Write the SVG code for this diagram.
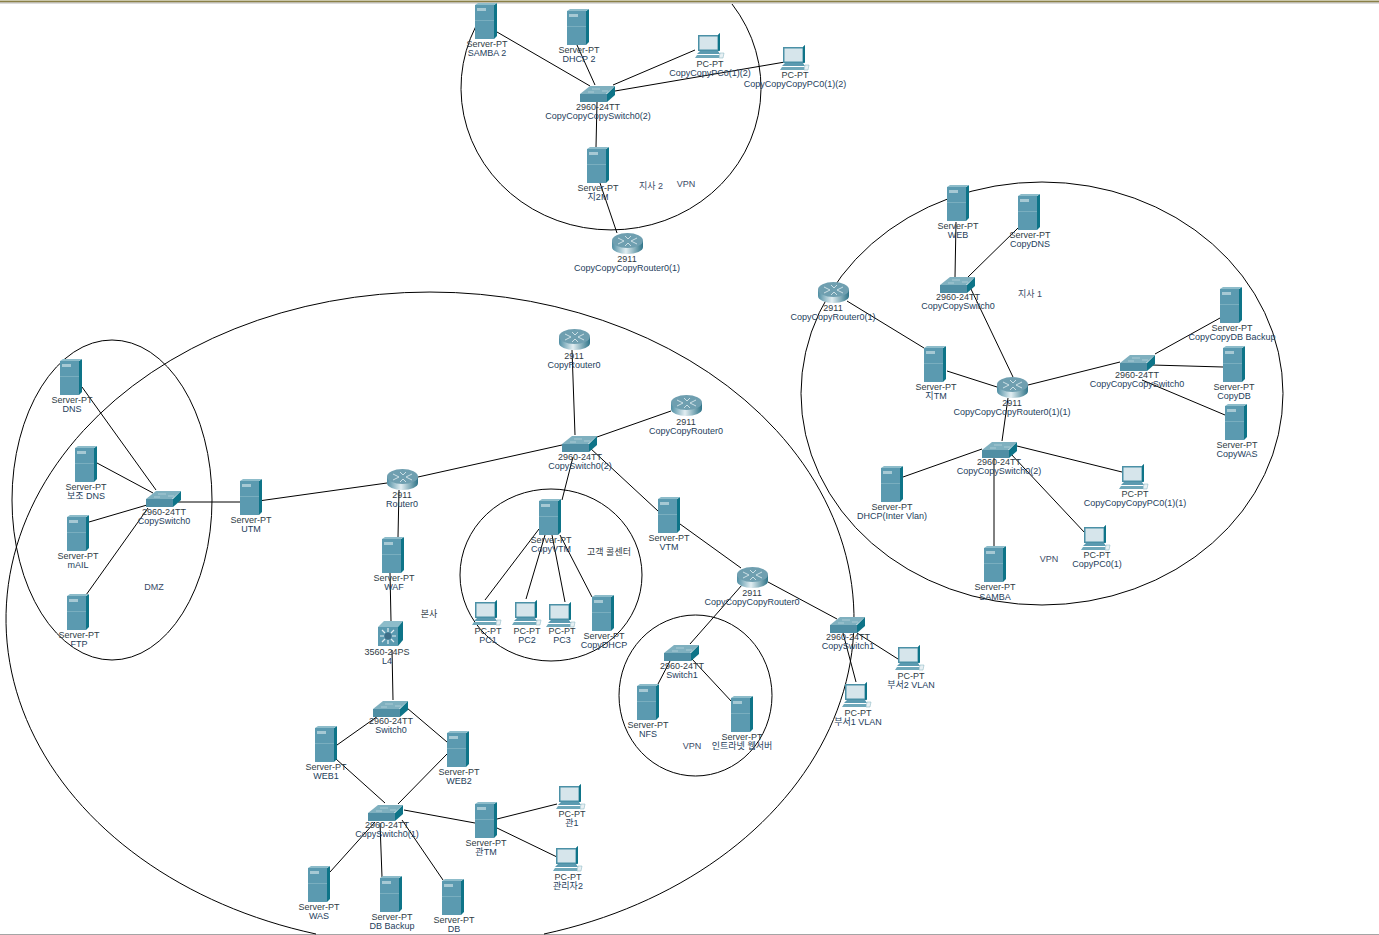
<svg xmlns="http://www.w3.org/2000/svg" width="1379" height="935" viewBox="0 0 1379 935">
<style>
text{font-family:"Liberation Sans","Noto Sans CJK KR",sans-serif;font-size:9px;text-anchor:middle;fill:#2f3b44}
.b{fill:#24405c}
.f{fill:#3a4a66}
.ring{fill:none;stroke:#000;stroke-width:1}
#connectors line{stroke:#000;stroke-width:1}
</style>
<defs>
<linearGradient id="rg" x1="0" x2="1" y1="0" y2="0"><stop offset="0" stop-color="#4f8ea3"/><stop offset=".45" stop-color="#e2eef2"/><stop offset="1" stop-color="#2f7488"/></linearGradient>
<g id="srv"><rect x="0" y="2" width="19" height="34" fill="#5b9ab0"/><polygon points="19,2 22,0 22,33 19,36" fill="#0e7488"/><polygon points="0,2 3,0 22,0 19,2" fill="#8dbcca"/><rect x="2" y="5" width="9" height="3" fill="#a6c9d4"/><rect x="0" y="17" width="19" height="1" fill="#79aebf"/></g>
<g id="sw"><polygon points="0,9 10,1 35,1 26,9" fill="#7fb0bf"/><rect x="0" y="9" width="27" height="8" fill="#4f8ea4"/><polygon points="27,9 35,1 35,10 27,17" fill="#0e7488"/><path d="M12 4h8M22 6h6M8 7h6" stroke="#b6d3dc" stroke-width=".8"/></g>
<g id="rt"><path d="M0 8v6a15.500 7 0 0 0 31 0v-6z" fill="url(#rg)"/><ellipse cx="15.500" cy="7.500" rx="15.500" ry="7.500" fill="#6f9fb0"/><path d="M6 5l6 3-6 3M25 5l-6 3 6 3M13 3l3 3 3-3M13 13l3-3 3 3" fill="none" stroke="#d7e6eb" stroke-width=".9"/></g>
<g id="pc"><polygon points="3,2 23,2 25,0 25,18 3,18" fill="#4b90a6"/><polygon points="23,2 25,0 25,17 23,18" fill="#0e7488"/><rect x="4.500" y="3.500" width="18" height="13" fill="#d6e5eb"/><polygon points="5,18 23,18 25,21 2,21" fill="#5b9ab0"/><polygon points="2,22 24,22 25,25 0,25" fill="#6fa8ba"/><polygon points="25,20 29,20 28,25 24,25" fill="#e8f0f3" stroke="#7fb0bf" stroke-width=".5"/></g>
<g id="l3"><polygon points="0,6 6,0 25,0 20,6" fill="#8dbcca"/><rect x="0" y="6" width="20" height="19" fill="#5b9ab0"/><polygon points="20,6 25,0 25,19 20,25" fill="#0e7488"/><circle cx="10" cy="15" r="3.500" fill="#3f6f88"/><path d="M10 7v4M10 19v4M2 15h4M14 15h4M4 9l3 3M16 9l-3 3M4 21l3-3M16 21l-3-3" stroke="#e3eef2" stroke-width="1.200"/></g>
</defs>
<rect width="1379" height="935" fill="#fff"/>
<rect width="1379" height="1" fill="#c9c6a8"/><rect y="1" width="1379" height="1.500" fill="#8a8048"/><rect y="2.500" width="1379" height="1" fill="#b9b9b9"/>
<rect y="934" width="1379" height="1" fill="#a5a5a5"/>
<g id="areas">
<path class="ring" d="M490 4A150 142 0 1 0 732 4"/>
<ellipse class="ring" cx="1042" cy="393.500" rx="241" ry="211.500"/>
<path class="ring" d="M316 934A424 327 0 1 1 544 934"/>
<ellipse class="ring" cx="112" cy="500" rx="100" ry="160"/>
<ellipse class="ring" cx="551" cy="575" rx="91" ry="86"/>
<ellipse class="ring" cx="695.500" cy="695.500" rx="76.500" ry="80.500"/>
</g>
<g id="connectors">
<line x1="497" y1="32" x2="590" y2="86"/><line x1="577" y1="45" x2="595" y2="85"/><line x1="695" y1="50" x2="613" y2="85"/><line x1="785" y1="62" x2="615" y2="91"/><line x1="597" y1="102" x2="596" y2="147"/><line x1="600" y1="183" x2="617" y2="233"/>
<line x1="847" y1="301" x2="924" y2="348"/><line x1="947" y1="371" x2="997" y2="387"/><line x1="956" y1="222" x2="955" y2="277"/><line x1="1018" y1="228" x2="968" y2="277"/><line x1="970" y1="287" x2="1013" y2="377"/><line x1="1028" y1="385" x2="1120" y2="362"/><line x1="1155" y1="354" x2="1220" y2="318"/><line x1="1152" y1="365" x2="1223" y2="367"/><line x1="1142" y1="380" x2="1225" y2="415"/><line x1="1008" y1="398" x2="1002" y2="441"/><line x1="982" y1="449" x2="903" y2="477"/><line x1="994" y1="457" x2="994" y2="546"/><line x1="1017" y1="446" x2="1122" y2="472"/><line x1="1010" y1="453" x2="1085" y2="533"/>
<line x1="82" y1="387" x2="156" y2="490"/><line x1="97" y1="463" x2="153" y2="493"/><line x1="89" y1="522" x2="147" y2="505"/><line x1="86" y1="595" x2="148" y2="508"/><line x1="178" y1="502" x2="240" y2="502"/><line x1="262" y1="500.500" x2="387" y2="483"/><line x1="418" y1="477" x2="562" y2="445"/><line x1="399" y1="490" x2="398" y2="537"/><line x1="390" y1="573" x2="391" y2="621"/><line x1="392" y1="650" x2="393" y2="700"/>
<line x1="572" y1="350" x2="575" y2="435"/><line x1="671" y1="411" x2="597" y2="437"/><line x1="573" y1="457" x2="562" y2="500"/><line x1="590" y1="448" x2="658" y2="511"/><line x1="680" y1="524" x2="741" y2="568"/><line x1="742" y1="585" x2="690" y2="644"/><line x1="768" y1="582" x2="837" y2="619"/><line x1="670" y1="661" x2="658" y2="684"/><line x1="692" y1="659" x2="732" y2="702"/><line x1="857" y1="633" x2="898" y2="659"/><line x1="843" y1="633" x2="856" y2="682"/>
<line x1="539" y1="529" x2="485" y2="600"/><line x1="545" y1="535" x2="526" y2="599"/><line x1="552" y1="535" x2="565" y2="602"/><line x1="560" y1="535" x2="592" y2="597"/>
<line x1="378" y1="716" x2="337" y2="745"/><line x1="407" y1="708" x2="447" y2="742"/><line x1="336" y1="759" x2="385" y2="803"/><line x1="447" y1="754" x2="398" y2="804"/><line x1="404" y1="810" x2="475" y2="823"/><line x1="497" y1="819" x2="557" y2="804"/><line x1="497" y1="828" x2="557" y2="857"/><line x1="375" y1="822" x2="330" y2="872"/><line x1="380" y1="823" x2="382" y2="877"/><line x1="402" y1="820" x2="443" y2="880"/>
</g>
<g id="samba2"><use href="#srv" x="475" y="3"/><text x="487" y="47">Server-PT</text><text class="b" x="487" y="56">SAMBA 2</text></g>
<g id="dhcp2"><use href="#srv" x="567" y="9"/><text x="579" y="53">Server-PT</text><text class="b" x="579" y="62">DHCP 2</text></g>
<g id="ji2m"><use href="#srv" x="587" y="147"/><text x="598" y="191">Server-PT</text><text class="b" x="598" y="200">지2M</text></g>
<g id="web"><use href="#srv" x="947" y="185"/><text x="958" y="229">Server-PT</text><text class="b" x="958" y="238">WEB</text></g>
<g id="copydns"><use href="#srv" x="1018" y="194"/><text x="1030" y="238">Server-PT</text><text class="b" x="1030" y="247">CopyDNS</text></g>
<g id="dbbackup1"><use href="#srv" x="1220" y="287"/><text x="1232" y="331">Server-PT</text><text class="b" x="1232" y="340">CopyCopyDB Backup</text></g>
<g id="copydb"><use href="#srv" x="1223" y="346"/><text x="1234" y="390">Server-PT</text><text class="b" x="1234" y="399">CopyDB</text></g>
<g id="copywas"><use href="#srv" x="1225" y="404"/><text x="1237" y="448">Server-PT</text><text class="b" x="1237" y="457">CopyWAS</text></g>
<g id="jitm"><use href="#srv" x="924" y="346"/><text x="936" y="390">Server-PT</text><text class="b" x="936" y="399">지TM</text></g>
<g id="dhcpvlan"><use href="#srv" x="881" y="466"/><text x="892" y="510">Server-PT</text><text class="b" x="892" y="519">DHCP(Inter Vlan)</text></g>
<g id="samba"><use href="#srv" x="984" y="546"/><text x="995" y="590">Server-PT</text><text class="b" x="995" y="600">SAMBA</text></g>
<g id="dns"><use href="#srv" x="60" y="359"/><text x="72" y="403">Server-PT</text><text class="b" x="72" y="412">DNS</text></g>
<g id="subdns"><use href="#srv" x="75" y="446"/><text x="86" y="490">Server-PT</text><text class="b" x="86" y="499">보조 DNS</text></g>
<g id="mail"><use href="#srv" x="67" y="515"/><text x="78" y="559">Server-PT</text><text class="b" x="78" y="568">mAIL</text></g>
<g id="ftp"><use href="#srv" x="67" y="594"/><text x="79" y="638">Server-PT</text><text class="b" x="79" y="647">FTP</text></g>
<g id="utm"><use href="#srv" x="240" y="479"/><text x="251" y="523">Server-PT</text><text class="b" x="251" y="532">UTM</text></g>
<g id="waf"><use href="#srv" x="382" y="537"/><text x="394" y="581">Server-PT</text><text class="b" x="394" y="590">WAF</text></g>
<g id="copyvtm"><use href="#srv" x="539" y="499"/><text x="551" y="543">Server-PT</text><text class="b" x="551" y="552">CopyVTM</text></g>
<g id="vtm"><use href="#srv" x="658" y="497"/><text x="669" y="541">Server-PT</text><text class="b" x="669" y="550">VTM</text></g>
<g id="copydhcp"><use href="#srv" x="592" y="595"/><text x="604" y="639">Server-PT</text><text class="b" x="604" y="648">CopyDHCP</text></g>
<g id="nfs"><use href="#srv" x="637" y="684"/><text x="648" y="728">Server-PT</text><text class="b" x="648" y="737">NFS</text></g>
<g id="intranet"><use href="#srv" x="731" y="696"/><text x="742" y="740">Server-PT</text><text class="b" x="742" y="749">인트라넷 웹서버</text></g>
<g id="web1"><use href="#srv" x="315" y="726"/><text x="326" y="770">Server-PT</text><text class="b" x="326" y="779">WEB1</text></g>
<g id="web2"><use href="#srv" x="447" y="731"/><text x="459" y="775">Server-PT</text><text class="b" x="459" y="784">WEB2</text></g>
<g id="gwantm"><use href="#srv" x="475" y="802"/><text x="486" y="846">Server-PT</text><text class="b" x="486" y="855">관TM</text></g>
<g id="was"><use href="#srv" x="308" y="866"/><text x="319" y="910">Server-PT</text><text class="b" x="319" y="919">WAS</text></g>
<g id="dbbackup"><use href="#srv" x="380" y="876"/><text x="392" y="920">Server-PT</text><text class="b" x="392" y="929">DB Backup</text></g>
<g id="db"><use href="#srv" x="442" y="879"/><text x="454" y="923">Server-PT</text><text class="b" x="454" y="932">DB</text></g>
<g id="sw-ccc02"><use href="#sw" x="580" y="85"/><text x="598" y="110">2960-24TT</text><text class="b" x="598" y="119">CopyCopyCopySwitch0(2)</text></g>
<g id="sw-cc0"><use href="#sw" x="940" y="276"/><text x="958" y="300">2960-24TT</text><text class="b" x="958" y="309">CopyCopySwitch0</text></g>
<g id="sw-ccc0"><use href="#sw" x="1120" y="354"/><text x="1137" y="378">2960-24TT</text><text class="b" x="1137" y="387">CopyCopyCopySwitch0</text></g>
<g id="sw-cc02"><use href="#sw" x="982" y="441"/><text x="999" y="465">2960-24TT</text><text class="b" x="999" y="474">CopyCopySwitch0(2)</text></g>
<g id="sw-c0"><use href="#sw" x="146" y="490"/><text x="164" y="515">2960-24TT</text><text class="b" x="164" y="524">CopySwitch0</text></g>
<g id="sw-c02"><use href="#sw" x="562" y="435"/><text x="580" y="460">2960-24TT</text><text class="b" x="580" y="469">CopySwitch0(2)</text></g>
<g id="sw-1"><use href="#sw" x="664" y="644"/><text x="682" y="669">2960-24TT</text><text class="b" x="682" y="678">Switch1</text></g>
<g id="sw-c1"><use href="#sw" x="830" y="616"/><text x="848" y="640">2960-24TT</text><text class="b" x="848" y="649">CopySwitch1</text></g>
<g id="sw-0"><use href="#sw" x="373" y="700"/><text x="391" y="724">2960-24TT</text><text class="b" x="391" y="733">Switch0</text></g>
<g id="sw-c01"><use href="#sw" x="368" y="804"/><text x="387" y="828">2960-24TT</text><text class="b" x="387" y="837">CopySwitch0(1)</text></g>
<g id="r-ccc01"><use href="#rt" x="612" y="233"/><text x="627" y="262">2911</text><text class="b" x="627" y="271">CopyCopyCopyRouter0(1)</text></g>
<g id="r-cc01"><use href="#rt" x="818" y="282"/><text x="833" y="311">2911</text><text class="b" x="833" y="320">CopyCopyRouter0(1)</text></g>
<g id="r-ccc011"><use href="#rt" x="997" y="377"/><text x="1012" y="406">2911</text><text class="b" x="1012" y="415">CopyCopyCopyRouter0(1)(1)</text></g>
<g id="r-c0"><use href="#rt" x="559" y="329"/><text x="574" y="359">2911</text><text class="b" x="574" y="368">CopyRouter0</text></g>
<g id="r-cc0"><use href="#rt" x="671" y="395"/><text x="686" y="425">2911</text><text class="b" x="686" y="434">CopyCopyRouter0</text></g>
<g id="r-0"><use href="#rt" x="387" y="469"/><text x="402" y="498">2911</text><text class="b" x="402" y="507">Router0</text></g>
<g id="r-ccc0"><use href="#rt" x="737" y="567"/><text x="752" y="596">2911</text><text class="b" x="752" y="605">CopyCopyCopyRouter0</text></g>
<g id="pc-cc012"><use href="#pc" x="695" y="33"/><text x="710" y="67">PC-PT</text><text class="b" x="710" y="76">CopyCopyPC0(1)(2)</text></g>
<g id="pc-ccc012"><use href="#pc" x="780" y="45"/><text x="795" y="78">PC-PT</text><text class="b" x="795" y="87">CopyCopyCopyPC0(1)(2)</text></g>
<g id="pc-ccc011"><use href="#pc" x="1119" y="464"/><text x="1135" y="497">PC-PT</text><text class="b" x="1135" y="506">CopyCopyCopyPC0(1)(1)</text></g>
<g id="pc-c01"><use href="#pc" x="1081" y="525"/><text x="1097" y="558">PC-PT</text><text class="b" x="1097" y="567">CopyPC0(1)</text></g>
<g id="pc1"><use href="#pc" x="472" y="600"/><text x="488" y="634">PC-PT</text><text class="b" x="488" y="643">PC1</text></g>
<g id="pc2"><use href="#pc" x="512" y="600"/><text x="527" y="634">PC-PT</text><text class="b" x="527" y="643">PC2</text></g>
<g id="pc3"><use href="#pc" x="546" y="602"/><text x="562" y="634">PC-PT</text><text class="b" x="562" y="643">PC3</text></g>
<g id="dept2"><use href="#pc" x="895" y="645"/><text x="911" y="679">PC-PT</text><text class="b" x="911" y="688">부서2 VLAN</text></g>
<g id="dept1"><use href="#pc" x="842" y="682"/><text x="858" y="716">PC-PT</text><text class="b" x="858" y="725">부서1 VLAN</text></g>
<g id="gwan1"><use href="#pc" x="556" y="784"/><text x="572" y="817">PC-PT</text><text class="b" x="572" y="826">관1</text></g>
<g id="admin2"><use href="#pc" x="553" y="846"/><text x="568" y="880">PC-PT</text><text class="b" x="568" y="889">관리자2</text></g>
<g id="l4"><use href="#l3" x="378" y="621"/><text x="387" y="655">3560-24PS</text><text class="b" x="387" y="664">L4</text></g>
<g id="notes">
<text class="f" x="651" y="189">지사 2</text>
<text class="f" x="686" y="187">VPN</text>
<text class="f" x="1030" y="297">지사 1</text>
<text class="f" x="1049" y="562">VPN</text>
<text class="f" x="154" y="590">DMZ</text>
<text x="429" y="617">본사</text>
<text x="609" y="555">고객 콜센터</text>
<text class="f" x="692" y="749">VPN</text>
</g>
</svg>
